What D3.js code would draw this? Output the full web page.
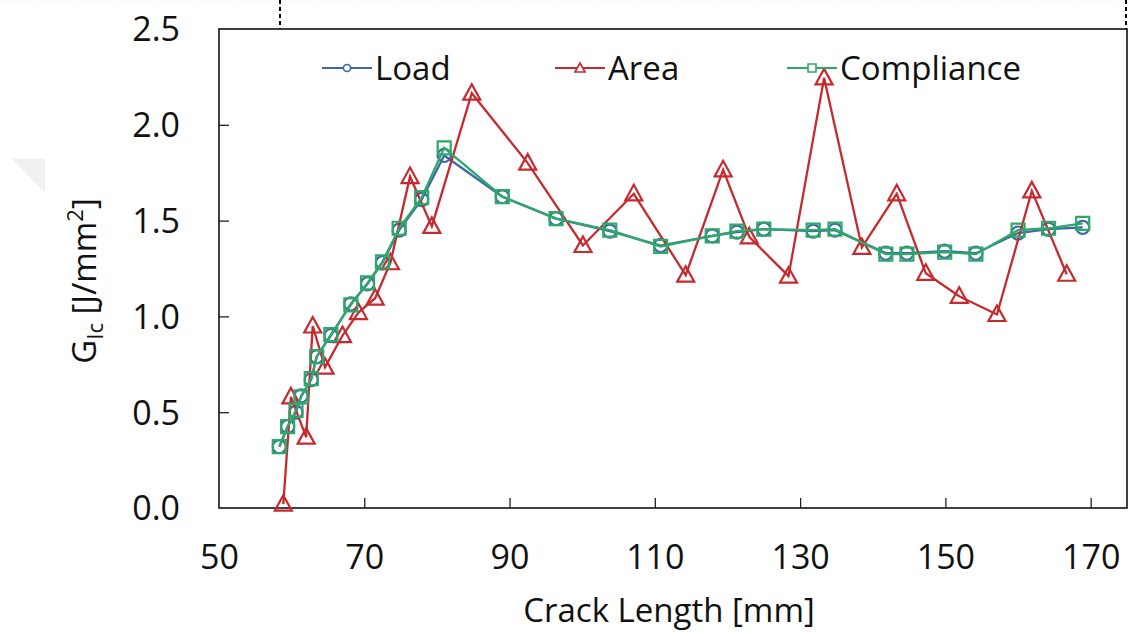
<!DOCTYPE html>
<html><head><meta charset="utf-8">
<script src="https://cdn.jsdelivr.net/npm/d3@7"></script>
<style>html,body{margin:0;padding:0;background:#fff;}svg{display:block;}</style>
</head><body>
<svg id="chart" width="1129" height="637"></svg>
<script>
// ---- data ----
const complianceX = [58.3,59.45,60.6,61.3,62.7,63.45,65.4,68.15,70.45,72.5,74.8,77.9,81.0,89.0,96.4,103.8,110.8,117.9,121.3,125.0,131.8,134.8,141.8,144.7,149.9,154.2,160.0,164.2,168.9];
const complianceY = [0.32,0.425,0.51,0.58,0.675,0.79,0.905,1.06,1.175,1.285,1.46,1.62,1.88,1.625,1.51,1.45,1.365,1.42,1.445,1.455,1.45,1.455,1.325,1.325,1.335,1.325,1.45,1.46,1.485];
const loadX = complianceX;
const loadY = [0.32,0.425,0.5,0.585,0.67,0.79,0.9,1.065,1.17,1.28,1.45,1.61,1.84,1.625,1.51,1.445,1.37,1.42,1.44,1.455,1.445,1.45,1.33,1.33,1.34,1.33,1.435,1.455,1.465];
const areaX = [58.85,59.9,62.0,62.9,64.6,67.0,69.2,71.5,73.6,76.3,79.3,84.8,92.5,100.1,107.1,114.25,119.4,123.0,128.4,133.3,138.5,143.3,147.3,151.9,157.1,161.9,166.7];
const areaY = [0.02,0.58,0.37,0.95,0.735,0.9,1.02,1.095,1.28,1.73,1.47,2.165,1.8,1.37,1.64,1.215,1.765,1.415,1.21,2.245,1.36,1.64,1.225,1.105,1.01,1.655,1.22];
const xTicks = [50,70,90,110,130,150,170];
const yTicks = [0,0.5,1.0,1.5,2.0,2.5];
const seriesNames = ["Load","Area","Compliance"];

// ---- layout ----
const svg = d3.select("#chart");
const L = 219, R = 1127, T = 29, B = 508;
const x = d3.scaleLinear().domain([50,175]).range([L,R]);
const y = d3.scaleLinear().domain([0,2.5]).range([B,T]);
const FONT = "'Open Sans', sans-serif";
const colors = {Load:"#3c68a6", Area:"#c62a2e", Compliance:"#2ea86a"};

// faint watermark triangle & page artifacts
svg.append("path").attr("d","M12,159 L45,159 L45,193 Z").attr("fill","#f1f1f1");
svg.append("line").attr("x1",0).attr("x2",1129).attr("y1",1).attr("y2",1)
  .attr("stroke","#f0f0f0").attr("stroke-width",1).attr("stroke-dasharray","2,3");
[280,1126].forEach(px=>{
  svg.append("line").attr("x1",px).attr("x2",px).attr("y1",0).attr("y2",T)
    .attr("stroke","#000").attr("stroke-width",2).attr("stroke-dasharray","4,3");
});

// axes
const xAxis = d3.axisBottom(x).tickValues(xTicks).tickSize(-10).tickPadding(37).tickFormat(d3.format("d"));
const gx = svg.append("g").attr("transform",`translate(0,${B})`).call(xAxis);
const yAxis = d3.axisLeft(y).tickValues(yTicks).tickSize(-10).tickPadding(39).tickFormat(d3.format(".1f"));
const gy = svg.append("g").attr("transform",`translate(${L},0)`).call(yAxis);
[gx,gy].forEach(g=>{
  g.select(".domain").remove();
  g.selectAll("text").attr("font-family",FONT).attr("font-size",34).attr("fill","#111");
  g.selectAll("line").attr("stroke","#222").attr("stroke-width",1.3);
});
gx.selectAll(".tick").filter(d=>d===50).select("line").remove();
gy.selectAll(".tick").filter(d=>d===0||d===2.5).select("line").remove();
gy.selectAll("text").attr("dy","0.35em");

// frame
svg.append("rect").attr("x",L).attr("y",T).attr("width",R-L).attr("height",B-T)
  .attr("fill","none").attr("stroke","#111").attr("stroke-width",1.6);

// axis titles
svg.append("text").attr("x",669).attr("y",622).attr("text-anchor","middle")
  .attr("font-family",FONT).attr("font-size",33).attr("fill","#111").text("Crack Length [mm]");
const yt = svg.append("text").attr("transform","translate(96,281) rotate(-90)").attr("text-anchor","middle")
  .attr("font-family",FONT).attr("font-size",33).attr("fill","#111");
yt.append("tspan").text("G");
yt.append("tspan").attr("font-size",22).attr("dy",7).text("Ic");
yt.append("tspan").attr("dy",-7).text(" [J/mm");
yt.append("tspan").attr("font-size",22).attr("dy",-13).text("2");
yt.append("tspan").attr("dy",13).text("]");

// series
function drawSeries(xs, ys, name, marker){
  const pts = xs.map((v,i)=>[v,ys[i]]);
  const line = d3.line().x(d=>x(d[0])).y(d=>y(d[1]));
  const g = svg.append("g");
  g.append("path").attr("d",line(pts)).attr("fill","none").attr("stroke",colors[name]).attr("stroke-width",2.3);
  g.selectAll("path.m").data(pts).enter().append("path").attr("class","m")
    .attr("transform",d=>`translate(${x(d[0])},${y(d[1])})`)
    .attr("d",marker).attr("fill","none").attr("stroke",colors[name]).attr("stroke-width",2.2);
}
const circleM = d3.symbol().type(d3.symbolCircle).size(135)();
const triM = "M0,-9 L8.5,6.5 L-8.5,6.5 Z";
const sqM = "M-6.5,-6.5 H6.5 V6.5 H-6.5 Z";
drawSeries(loadX, loadY, "Load", circleM);
drawSeries(areaX, areaY, "Area", triM);
drawSeries(complianceX, complianceY, "Compliance", sqM);

// legend
const legendPos = [{n:"Load",x:322,m:d3.symbol().type(d3.symbolCircle).size(40)()},
                   {n:"Area",x:555,m:"M0,-5 L5,4 L-5,4 Z"},
                   {n:"Compliance",x:787,m:"M-4,-4 H4 V4 H-4 Z"}];
legendPos.forEach((p,i)=>{
  const ly = 68;
  const g = svg.append("g");
  g.append("line").attr("x1",p.x).attr("x2",p.x+50).attr("y1",ly).attr("y2",ly)
    .attr("stroke",colors[p.n]).attr("stroke-width",2);
  g.append("path").attr("d",p.m).attr("transform",`translate(${p.x+25},${ly})`)
    .attr("fill","#fff").attr("stroke",colors[p.n]).attr("stroke-width",1.6);
  g.append("text").attr("x",p.x+53).attr("y",ly+12).attr("font-family",FONT).attr("font-size",33)
    .attr("fill","#111").text(seriesNames[i]);
});
</script>
</body></html>
